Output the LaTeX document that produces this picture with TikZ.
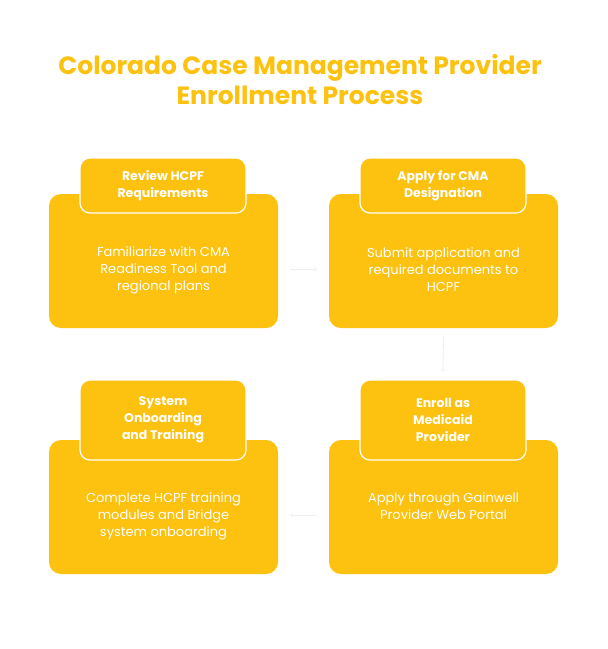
\documentclass[tikz,border=0pt]{standalone}
\usepackage{fontspec}
\setmainfont{Poppins}
\definecolor{cmayellow}{HTML}{FDC110}
\definecolor{faint}{HTML}{EFEFEF}
\tikzset{
  body/.style={fill=cmayellow,rounded corners=12pt,minimum width=229pt,minimum height=134pt},
  head/.style={fill=cmayellow,draw=white,line width=1.2pt,rounded corners=10pt,minimum width=166pt,text=white,font=\bfseries\fontsize{12.5}{17}\selectfont,align=center},
  txt/.style={text=white,font=\fontsize{13}{17}\selectfont,align=center},
  link/.style={->,faint,thick}
}
\begin{document}
\begin{tikzpicture}[x=1pt,y=-1pt]
\useasboundingbox (0,0) rectangle (608,649);
\node[text=cmayellow,font=\bfseries\fontsize{25}{30}\selectfont,align=center] (title) at (300,80) {Colorado Case Management Provider\\Enrollment Process};
% row one
\node[body] (b1) at (163.5,261) {};
\node[head,minimum height=55pt] (h1) at (163,185.5) {Review HCPF\\Requirements};
\node[txt] (t1) at (163.5,270) {Familiarize with CMA\\Readiness Tool and\\regional plans};
\node[body] (b2) at (443.5,261) {};
\node[head,minimum height=55pt] (h2) at (443,185.5) {Apply for CMA\\Designation};
\node[txt] (t2) at (443.5,270) {Submit application and\\required documents to\\HCPF};
% row two
\node[body] (b3) at (163.5,507) {};
\node[head,minimum height=80pt] (h3) at (163,420) {System\\Onboarding\\and Training};
\node[txt] (t3) at (163.5,516) {Complete HCPF training\\modules and Bridge\\system onboarding};
\node[body] (b4) at (443.5,507) {};
\node[head,minimum height=80pt] (h4) at (443,420) {Enroll as\\Medicaid\\Provider};
\node[txt] (t4) at (443.5,506) {Apply through Gainwell\\Provider Web Portal};
% links
\draw[link] ([xshift=12pt,yshift=-8pt]b1.east) -- ([xshift=-12pt,yshift=-8pt]b2.west);
\draw[link] ([yshift=-8pt]b2.south) -- ([yshift=8pt]h4.north);
\draw[link] ([xshift=-12pt,yshift=-8pt]b4.west) -- ([xshift=12pt,yshift=-8pt]b3.east);
\end{tikzpicture}
\end{document}
